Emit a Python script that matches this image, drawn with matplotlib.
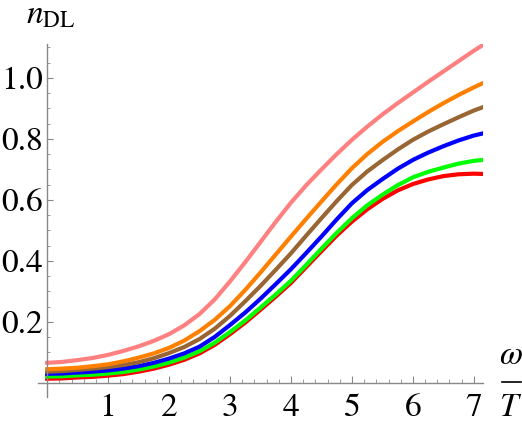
import matplotlib
matplotlib.use('Agg')
import matplotlib.pyplot as plt
from matplotlib.lines import Line2D
from matplotlib.ticker import MultipleLocator, FormatStrFormatter

plt.rcParams['font.family'] = ['STIXGeneral', 'DejaVu Serif']
plt.rcParams['mathtext.fontset'] = 'stix'

# omega / T values
x = [0, 0.25, 0.5, 0.75, 1, 1.25, 1.5, 1.75, 2, 2.25, 2.5, 2.75, 3, 3.25, 3.5,
     3.75, 4, 4.25, 4.5, 4.75, 5, 5.25, 5.5, 5.75, 6, 6.25, 6.5, 6.75, 7, 7.15]

n_red = [0.014, 0.015, 0.018, 0.020, 0.024, 0.029, 0.037, 0.047, 0.060, 0.076,
         0.097, 0.125, 0.160, 0.198, 0.240, 0.283, 0.328, 0.380, 0.432, 0.483,
         0.529, 0.569, 0.603, 0.631, 0.652, 0.667, 0.678, 0.684, 0.686, 0.685]
n_green = [0.021, 0.022, 0.025, 0.027, 0.031, 0.036, 0.044, 0.054, 0.067, 0.083,
           0.104, 0.132, 0.167, 0.205, 0.247, 0.290, 0.335, 0.387, 0.440, 0.492,
           0.540, 0.582, 0.617, 0.648, 0.674, 0.692, 0.706, 0.719, 0.728, 0.731]
n_blue = [0.030, 0.031, 0.034, 0.037, 0.041, 0.047, 0.055, 0.066, 0.080, 0.097,
          0.119, 0.151, 0.190, 0.231, 0.276, 0.324, 0.373, 0.426, 0.480, 0.536,
          0.589, 0.632, 0.668, 0.702, 0.731, 0.755, 0.776, 0.795, 0.811, 0.818]
n_brown = [0.037, 0.039, 0.043, 0.047, 0.052, 0.059, 0.068, 0.081, 0.098, 0.118,
           0.144, 0.178, 0.220, 0.268, 0.318, 0.371, 0.425, 0.483, 0.540, 0.596,
           0.649, 0.693, 0.730, 0.765, 0.797, 0.824, 0.848, 0.871, 0.893, 0.904]
n_orange = [0.045, 0.047, 0.050, 0.055, 0.061, 0.071, 0.083, 0.097, 0.115, 0.139,
            0.170, 0.207, 0.252, 0.305, 0.362, 0.421, 0.480, 0.538, 0.595, 0.651,
            0.704, 0.750, 0.790, 0.825, 0.857, 0.888, 0.917, 0.944, 0.969, 0.983]
n_pink = [0.066, 0.069, 0.075, 0.082, 0.092, 0.105, 0.120, 0.138, 0.160, 0.189,
          0.226, 0.274, 0.333, 0.396, 0.462, 0.528, 0.591, 0.648, 0.700, 0.750,
          0.797, 0.840, 0.880, 0.917, 0.952, 0.987, 1.021, 1.055, 1.089, 1.108]

curves = [
    (n_red, '#ff0000'),
    (n_green, '#00ff00'),
    (n_blue, '#0000ff'),
    (n_brown, '#996633'),
    (n_orange, '#ff8000'),
    (n_pink, '#ff8080'),
]

xticks = [1, 2, 3, 4, 5, 6, 7]
yticks = [0.2, 0.4, 0.6, 0.8, 1.0]

fig = plt.figure(figsize=(5.22, 4.26), dpi=100)
ax = fig.add_axes([38 / 522, 29 / 426, 445 / 522, 353 / 426])

for vals, color in curves:
    ax.plot(x, vals, color=color, lw=3.0, solid_joinstyle='round')

ax.set_xlim(-0.15, 7.15)
ax.set_ylim(-0.046, 1.111)

# Mathematica style axes through the origin
for side in ['top', 'right']:
    ax.spines[side].set_visible(False)
ax.spines['left'].set_position(('data', 0))
ax.spines['bottom'].set_position(('data', 0))
for side in ['left', 'bottom']:
    ax.spines[side].set_color('#888888')
    ax.spines[side].set_linewidth(1.0)

ax.set_xticks(xticks)
ax.set_yticks(yticks)
ax.yaxis.set_major_formatter(FormatStrFormatter('%.1f'))
ax.xaxis.set_minor_locator(MultipleLocator(0.2))
ax.yaxis.set_minor_locator(MultipleLocator(0.05))

ax.tick_params(axis='x', which='major', direction='in', length=5, width=0.8,
               color='#888888', labelsize=24, pad=8)
ax.tick_params(axis='x', which='minor', direction='in', length=2.8, width=0.6,
               color='#888888')
ax.tick_params(axis='y', which='major', direction='in', length=4, width=0.8,
               color='#888888', labelsize=24, pad=3)
ax.tick_params(axis='y', which='minor', direction='in', length=2.3, width=0.6,
               color='#888888')

# axis labels
fig.text(26 / 522, 1 - 23 / 426, r'$n_{\mathrm{DL}}$', fontsize=24,
         ha='left', va='baseline')
fig.text(511 / 522, 1 - 356 / 426, r'$\omega$', fontsize=24,
         ha='center', va='center')
fig.text(511 / 522, 1 - 408 / 426, r'$T$', fontsize=24,
         ha='center', va='center')
fig.add_artist(Line2D([502 / 522, 521 / 522], [1 - 382 / 426, 1 - 382 / 426],
                      transform=fig.transFigure, color='black', lw=1.2))

fig.savefig('out.png', dpi=100)
